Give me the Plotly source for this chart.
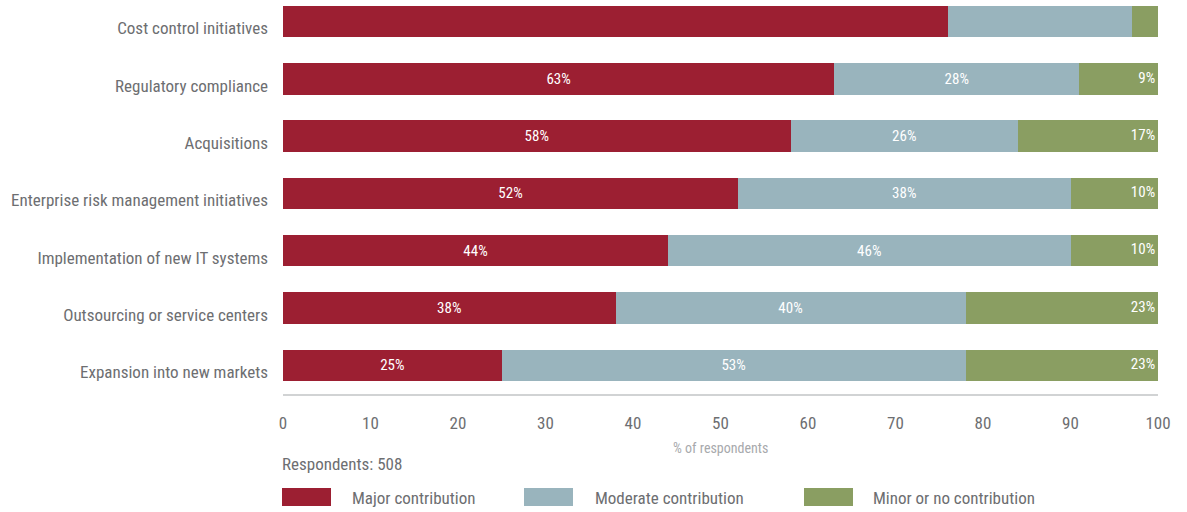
import plotly.graph_objects as go

# Survey categories, top to bottom
categories = [
    "Cost control initiatives",
    "Regulatory compliance",
    "Acquisitions",
    "Enterprise risk management initiatives",
    "Implementation of new IT systems",
    "Outsourcing or service centers",
    "Expansion into new markets",
]

# Share of respondents (%) per contribution level
major = [76, 63, 58, 52, 44, 38, 25]
moderate = [21, 28, 26, 38, 46, 40, 53]
minor = [3, 9, 17, 10, 10, 23, 23]

# Rows that carry value labels on the bars
show_labels = [False, True, True, True, True, True, True]

series_names = ["Major contribution", "Moderate contribution", "Minor or no contribution"]
colors = ["#9c1f32", "#99b4bd", "#8a9e62"]

x_ticks = [0, 10, 20, 30, 40, 50, 60, 70, 80, 90, 100]
respondents_note = "Respondents: 508"
x_title = "% of respondents"

FONT = "Liberation Sans Narrow, Roboto Condensed, Arial Narrow, Roboto, sans-serif"
GREY = "#6d6e71"

W, H = 1187, 512
M_L, M_R, M_T, M_B = 283, 29, 0, 118
PLOT_W = W - M_L - M_R
PLOT_H = H - M_T - M_B
X_MAX = 100


def labels(values):
    return [f"{v}%" if s else "" for v, s in zip(values, show_labels)]


fig = go.Figure()
for name, vals, col, with_text in zip(
    series_names, [major, moderate, minor], colors, [True, True, False]
):
    fig.add_trace(
        go.Bar(
            y=categories,
            x=vals,
            name=name,
            orientation="h",
            marker=dict(color=col, line=dict(width=0)),
            text=labels(vals) if with_text else None,
            textposition="inside",
            insidetextanchor="middle",
            textangle=0,
            constraintext="none",
            textfont=dict(family=FONT, size=15, color="white"),
            hoverinfo="skip",
            showlegend=False,
        )
    )

# Minor-share labels sit right-aligned at the visible end of each stacked bar
bar_ends = [min(X_MAX, a + b + c) for a, b, c in zip(major, moderate, minor)]
fig.add_trace(
    go.Scatter(
        y=categories,
        x=bar_ends,
        mode="text",
        text=[t + "\u2009" for t in labels(minor)],
        textposition="middle left",
        textfont=dict(family=FONT, size=15, color="white"),
        hoverinfo="skip",
        showlegend=False,
        cliponaxis=False,
    )
)


def px_to_paper_x(px):
    return (px - M_L) / PLOT_W


def px_to_paper_y(py):
    return (M_T + PLOT_H - py) / PLOT_H


# Hand-built legend: swatches plus labels in one row under the axis
legend_items = [
    (282, 331, 350),
    (524, 573, 593),
    (804, 853, 871),
]
shapes = []
annotations = []
for (x0, x1, tx), name, col in zip(legend_items, series_names, colors):
    shapes.append(
        dict(
            type="rect", xref="paper", yref="paper",
            x0=px_to_paper_x(x0), x1=px_to_paper_x(x1),
            y0=px_to_paper_y(506), y1=px_to_paper_y(488),
            fillcolor=col, line=dict(width=0), layer="above",
        )
    )
    annotations.append(
        dict(
            text=name, xref="paper", yref="paper",
            x=px_to_paper_x(tx), y=px_to_paper_y(498),
            xanchor="left", yanchor="middle", showarrow=False,
            font=dict(family=FONT, size=17, color=GREY),
        )
    )

annotations.append(
    dict(
        text=respondents_note, xref="paper", yref="paper",
        x=px_to_paper_x(280), y=px_to_paper_y(464),
        xanchor="left", yanchor="middle", showarrow=False,
        font=dict(family=FONT, size=17, color=GREY),
    )
)
annotations.append(
    dict(
        text=x_title, xref="paper", yref="paper",
        x=0.5, y=px_to_paper_y(448),
        xanchor="center", yanchor="middle", showarrow=False,
        font=dict(family=FONT, size=14, color="#a7a9ac"),
    )
)

fig.update_layout(
    width=W,
    height=H,
    barmode="stack",
    bargap=0.45,
    plot_bgcolor="white",
    paper_bgcolor="white",
    margin=dict(l=M_L, r=M_R, t=M_T, b=M_B, pad=0),
    font=dict(family=FONT, color=GREY),
    shapes=shapes,
    annotations=annotations,
    xaxis=dict(
        range=[0, X_MAX],
        tickvals=x_ticks,
        ticktext=[str(t) for t in x_ticks],
        showgrid=False,
        zeroline=False,
        showline=True,
        linecolor="#d1d3d4",
        linewidth=2,
        ticks="",
        ticklabelstandoff=13,
        tickfont=dict(family=FONT, size=17, color=GREY),
        fixedrange=True,
    ),
    yaxis=dict(
        categoryorder="array",
        categoryarray=categories,
        range=[6.5, -0.375],
        showgrid=False,
        zeroline=False,
        showline=False,
        ticks="",
        ticklabelstandoff=14,
        ticklabelshift=-7,
        tickfont=dict(family=FONT, size=17, color=GREY),
        fixedrange=True,
    ),
)

fig.write_html("out.html")
